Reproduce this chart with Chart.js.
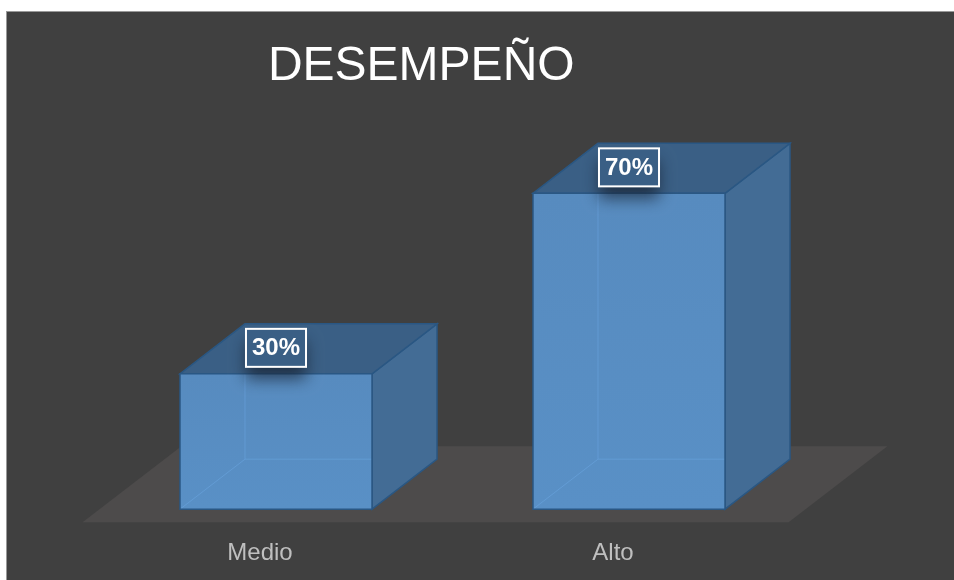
<!DOCTYPE html>
<html>
<head>
<meta charset="utf-8">
<script src="https://cdn.jsdelivr.net/npm/chart.js@4.4.1/dist/chart.umd.min.js"></script>
<style>
  html, body { margin: 0; padding: 0; background: #ffffff; overflow: hidden; }
  #frame {
    position: absolute; left: 6px; top: 11px;
    border-left: 1px solid #999999; border-top: 1px solid #999999;
    background: #404040;
  }
  #chart { display: block; }
</style>
</head>
<body>
<div id="frame"><canvas id="chart" width="948" height="569"></canvas></div>
<script>
const categories = ["Medio", "Alto"];
const desempeno = [30, 70];
const valueLabels = ["30%", "70%"];
const titleText = "DESEMPEÑO";

// box depth (px) used for bar sides, tops and the floor
const DEPTH_X = 65;
const DEPTH_Y = 50;
const FLOOR_OVER = 13;

function poly(ctx, pts, fill, stroke) {
  ctx.beginPath();
  ctx.moveTo(pts[0][0], pts[0][1]);
  for (let i = 1; i < pts.length; i++) ctx.lineTo(pts[i][0], pts[i][1]);
  ctx.closePath();
  if (fill) { ctx.fillStyle = fill; ctx.fill(); }
  if (stroke) { ctx.strokeStyle = stroke; ctx.lineWidth = 1.5; ctx.stroke(); }
}

const box3d = {
  id: "box3d",
  beforeDatasetsDraw(chart) {
    const ctx = chart.ctx;
    const area = chart.chartArea;
    const base = chart.scales.y.getPixelForValue(0);
    const k = DEPTH_X / DEPTH_Y;
    const ox = FLOOR_OVER * k;
    ctx.save();
    poly(ctx, [
      [area.left - ox, base + FLOOR_OVER],
      [area.right - ox, base + FLOOR_OVER],
      [area.right + DEPTH_X + ox, base - DEPTH_Y - FLOOR_OVER],
      [area.left + DEPTH_X + ox, base - DEPTH_Y - FLOOR_OVER]
    ], "#4d4b4b");
    ctx.restore();
  },
  afterDatasetsDraw(chart) {
    const ctx = chart.ctx;
    const meta = chart.getDatasetMeta(0);
    ctx.save();
    meta.data.forEach((bar, i) => {
      const p = bar.getProps(["x", "y", "width", "base"], true);
      const x0 = p.x - p.width / 2, x1 = p.x + p.width / 2;
      const top = p.y, base = p.base;
      const edge = "#2a5783";

      // right side
      poly(ctx, [[x1, top], [x1 + DEPTH_X, top - DEPTH_Y], [x1 + DEPTH_X, base - DEPTH_Y], [x1, base]], "#436c95", edge);
      // top
      poly(ctx, [[x0, top], [x0 + DEPTH_X, top - DEPTH_Y], [x1 + DEPTH_X, top - DEPTH_Y], [x1, top]], "#3a5f85", edge);
      // front
      const g = ctx.createLinearGradient(0, top, 0, base);
      g.addColorStop(0, "#578bbf");
      g.addColorStop(1, "#5990c6");
      poly(ctx, [[x0, top], [x1, top], [x1, base], [x0, base]], g, null);

      // hidden back edges seen through the front
      ctx.strokeStyle = "rgba(110,170,230,0.45)";
      ctx.lineWidth = 1;
      ctx.beginPath();
      ctx.moveTo(x0 + DEPTH_X, top);
      ctx.lineTo(x0 + DEPTH_X, base - DEPTH_Y);
      ctx.lineTo(x1, base - DEPTH_Y);
      ctx.moveTo(x0, base);
      ctx.lineTo(x0 + DEPTH_X, base - DEPTH_Y);
      ctx.stroke();

      poly(ctx, [[x0, top], [x1, top], [x1, base], [x0, base]], null, edge);

      // value label on the top face
      const txt = valueLabels[i];
      ctx.font = "bold 24px 'Liberation Sans', Arial, sans-serif";
      const w = ctx.measureText(txt).width + 12;
      const h = 38;
      const cx = p.x, cy = top - 26;
      ctx.save();
      ctx.shadowColor = "rgba(20,30,45,0.7)";
      ctx.shadowBlur = 16;
      ctx.shadowOffsetY = 12;
      ctx.fillStyle = "#3a5f85";
      ctx.fillRect(cx - w / 2, cy - h / 2, w, h);
      ctx.restore();
      ctx.strokeStyle = "#ffffff";
      ctx.lineWidth = 2;
      ctx.strokeRect(cx - w / 2, cy - h / 2, w, h);
      ctx.fillStyle = "#ffffff";
      ctx.textAlign = "center";
      ctx.textBaseline = "middle";
      ctx.fillText(txt, cx, cy + 1);
    });

    // chart title
    ctx.font = "48px 'Liberation Sans', Arial, sans-serif";
    ctx.fillStyle = "#ffffff";
    ctx.textAlign = "center";
    ctx.textBaseline = "alphabetic";
    ctx.fillText(titleText, chart.width * 0.437, 68);
    ctx.restore();
  }
};

new Chart(document.getElementById("chart"), {
  type: "bar",
  data: {
    labels: categories,
    datasets: [{
      label: "Desempeño",
      data: desempeno,
      backgroundColor: "rgba(0,0,0,0)",
      borderWidth: 0,
      categoryPercentage: 1,
      barPercentage: 0.544
    }]
  },
  options: {
    responsive: false,
    animation: false,
    events: [],
    layout: { padding: { left: 92.5, right: 149.5, top: 46, bottom: -17 } },
    plugins: {
      legend: { display: false },
      tooltip: { enabled: false }
    },
    scales: {
      x: {
        grid: { display: false, drawTicks: false },
        border: { display: false },
        ticks: {
          color: "#bfbfbf",
          font: { family: "'Liberation Sans', Arial, sans-serif", size: 24 },
          padding: 30,
          labelOffset: -16
        }
      },
      y: {
        display: false,
        min: 0,
        max: 100
      }
    }
  },
  plugins: [box3d]
});
</script>
</body>
</html>
